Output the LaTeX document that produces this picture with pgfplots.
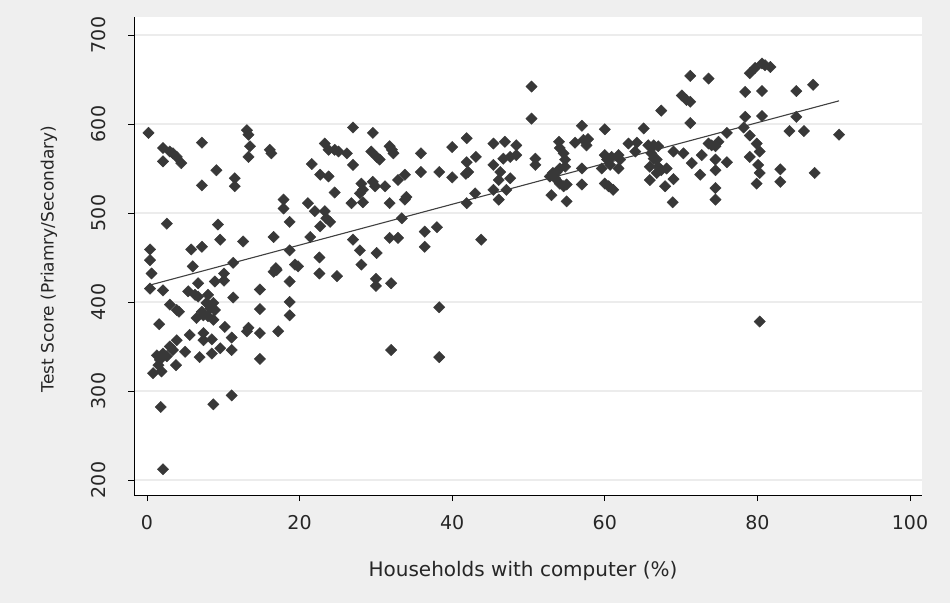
\documentclass[border=0pt]{standalone}
\usepackage{pgfplots}
\pgfplotsset{compat=1.18}
\usepackage{fontspec}
\setmainfont{DejaVu Sans}
\definecolor{bg}{HTML}{EFEFEF}
\definecolor{gridc}{HTML}{ECECEC}
\definecolor{mk}{HTML}{383838}
\begin{document}
\begin{tikzpicture}[x=1pt,y=1pt]
\fill[bg] (0,0) rectangle (950,603);
\begin{axis}[
  at={(134pt,108pt)}, anchor=south west,
  scale only axis, width=788pt, height=478pt,
  xmin=-1.7, xmax=101.57, ymin=183.1, ymax=720.2,
  axis x line*=bottom, axis y line*=left,
  axis line style={black, line width=0.9pt, -},
  axis background/.style={fill=white},
  xtick={0,20,...,100}, ytick={200,300,...,700},
  tick align=outside, major tick length=6pt,
  tick style={black, line width=0.9pt},
  ymajorgrids, grid style={gridc, line width=1.6pt},
  /pgf/number format/assume math mode=true,
  tick label style={font=\fontsize{19}{22}\selectfont, text=black!85},
  yticklabel style={rotate=90, anchor=south},
  yticklabel shift=19pt,
  xticklabel shift=11pt,
  xlabel={Households with computer (\%)},
  ylabel={Test Score (Priamry/Secondary)},
  every axis x label/.style={at={(rel axis cs:0.5,0)}, anchor=center, yshift=-76pt, xshift=-5pt, font=\fontsize{20}{24}\selectfont, text=black!85},
  every axis y label/.style={at={(rel axis cs:0,0.5)}, xshift=-85pt, yshift=-3pt, rotate=90, anchor=center, font=\fontsize{17}{20}\selectfont, text=black!85},
  clip=false,
]
\addplot[only marks, mark=square*, mark size=4pt, mark options={rotate=45, fill=mk, draw=mk}] coordinates {
(0.2,590) (2.1,573) (3.0,569) (3.4,567) (2.1,558) (4.5,556) (3.9,563) (7.2,579) (7.2,531) (9.1,548)
(11.5,539) (11.5,530) (13.1,593) (13.3,588) (13.5,575) (13.3,563) (16.1,571) (16.3,567) (23.3,578) (23.8,571)
(21.6,555) (22.7,543) (23.8,541) (17.9,515) (17.9,505) (21.1,511) (22.0,502) (23.3,502) (18.7,490) (22.7,485)
(2.6,488) (9.3,487) (9.6,470) (12.6,468) (16.6,473) (21.4,473) (0.4,459) (0.4,447) (5.8,459) (7.2,462)
(18.7,458) (22.6,450) (19.4,442) (11.3,444) (6.0,440) (16.9,438)
(0.6,432) (0.4,415) (2.1,413) (10.1,432) (8.9,423) (10.1,424) (6.7,421) (5.4,412) (6.3,408) (6.7,406)
(8.0,408) (8.7,399) (7.8,399) (11.3,405) (3.0,397) (3.9,391) (4.2,389) (7.2,389) (8.3,393) (8.9,391)
(8.0,384) (6.5,382) (8.7,380) (7.4,385) (1.6,375) (14.8,414) (14.8,392) (18.7,423) (18.7,400) (18.7,385)
(16.6,434) (17.0,436) (19.8,440) (22.6,432) (10.2,372) (11.1,360) (5.6,363) (7.4,365) (7.4,357) (8.5,358)
(9.6,348) (11.1,346) (13.1,367) (13.3,371) (14.8,365) (17.2,367) (14.8,336) (3.9,357) (3.0,350) (2.1,342)
(1.3,340) (1.7,335) (2.6,339) (3.4,346) (5.0,344) (6.9,338) (8.5,342) (3.8,329) (0.8,320) (1.9,322)
(1.5,329) (11.1,295) (8.7,285) (1.8,282) (2.1,212)
(27.0,596) (29.6,590) (24.6,571) (26.2,567) (25.1,569) (29.4,569) (30.1,563) (30.5,560) (31.8,575) (32.3,567)
(32.1,571) (27.0,554) (35.9,567) (35.9,546) (38.3,546) (40.0,574) (40.0,540) (41.9,584) (43.1,563) (41.9,557)
(42.1,546) (41.8,544) (24.6,523) (28.1,533) (28.3,526) (27.9,522) (29.6,535) (29.9,530) (31.2,530) (32.9,537)
(33.8,543) (34.0,518) (33.8,515) (26.8,511) (28.3,512) (31.8,511) (23.5,494) (24.0,490) (33.4,494) (41.9,511)
(43.0,522) (45.4,578) (46.9,580) (48.4,576) (45.4,554) (46.7,561) (47.6,563) (48.4,565) (46.3,546) (46.1,537)
(47.6,539) (47.1,526) (45.4,526) (46.1,515) (27.0,470) (27.9,458) (28.1,442) (30.1,455) (31.8,472) (32.9,472)
(36.4,479) (36.4,462) (38.0,484) (43.8,470)
(24.9,429) (30.0,426) (30.0,418) (32.0,421) (38.3,394) (32.0,346) (38.3,338)
(50.4,642) (50.4,606) (71.2,654) (70.1,632) (70.7,627) (71.2,625) (67.4,615) (71.2,601) (57.0,598) (60.0,594)
(65.1,595) (73.6,651) (50.9,561) (50.9,554) (54.0,580) (54.1,573) (54.6,567) (54.8,560) (54.8,552) (54.1,550)
(53.7,546) (53.2,545) (52.8,541) (53.5,539) (54.1,533) (54.6,530) (55.0,532) (53.0,520) (55.0,513) (56.1,579)
(57.2,582) (57.8,583) (57.6,576) (57.0,550) (57.0,532) (60.0,565) (60.3,560) (60.9,563) (59.6,550) (60.7,554)
(61.8,565) (62.0,560) (61.8,550) (60.0,533) (60.5,530) (61.1,526) (63.1,578) (64.2,579) (64.0,569) (65.7,576)
(66.4,576) (67.0,575) (66.1,567) (66.4,561) (66.8,560) (65.9,552) (67.0,552) (67.4,548) (66.8,545) (65.9,537)
(68.1,550) (67.9,530) (69.0,538) (68.9,512) (69.0,569) (70.3,567) (71.4,556) (72.7,565) (72.5,543) (73.6,578)
(79.0,657) (79.7,663) (80.6,668) (81.0,666) (81.7,664) (78.4,636) (80.6,637) (85.1,637) (87.3,644) (78.4,608)
(80.6,609) (78.2,596) (85.1,608) (84.2,592) (86.1,592) (90.7,588) (76.0,590) (74.9,580) (74.0,576) (74.5,575)
(79.0,587) (79.9,578) (80.3,569) (79.0,563) (80.1,554) (80.3,545) (79.9,533) (83.0,549) (83.0,535) (87.5,545)
(74.5,560) (76.0,557) (74.5,548) (74.5,528) (74.5,515) (80.3,378)
};
\addplot[no marks, color=black!75, line width=1.1pt] coordinates {(0.4,419) (90.7,626)};
\end{axis}
\end{tikzpicture}
\end{document}
